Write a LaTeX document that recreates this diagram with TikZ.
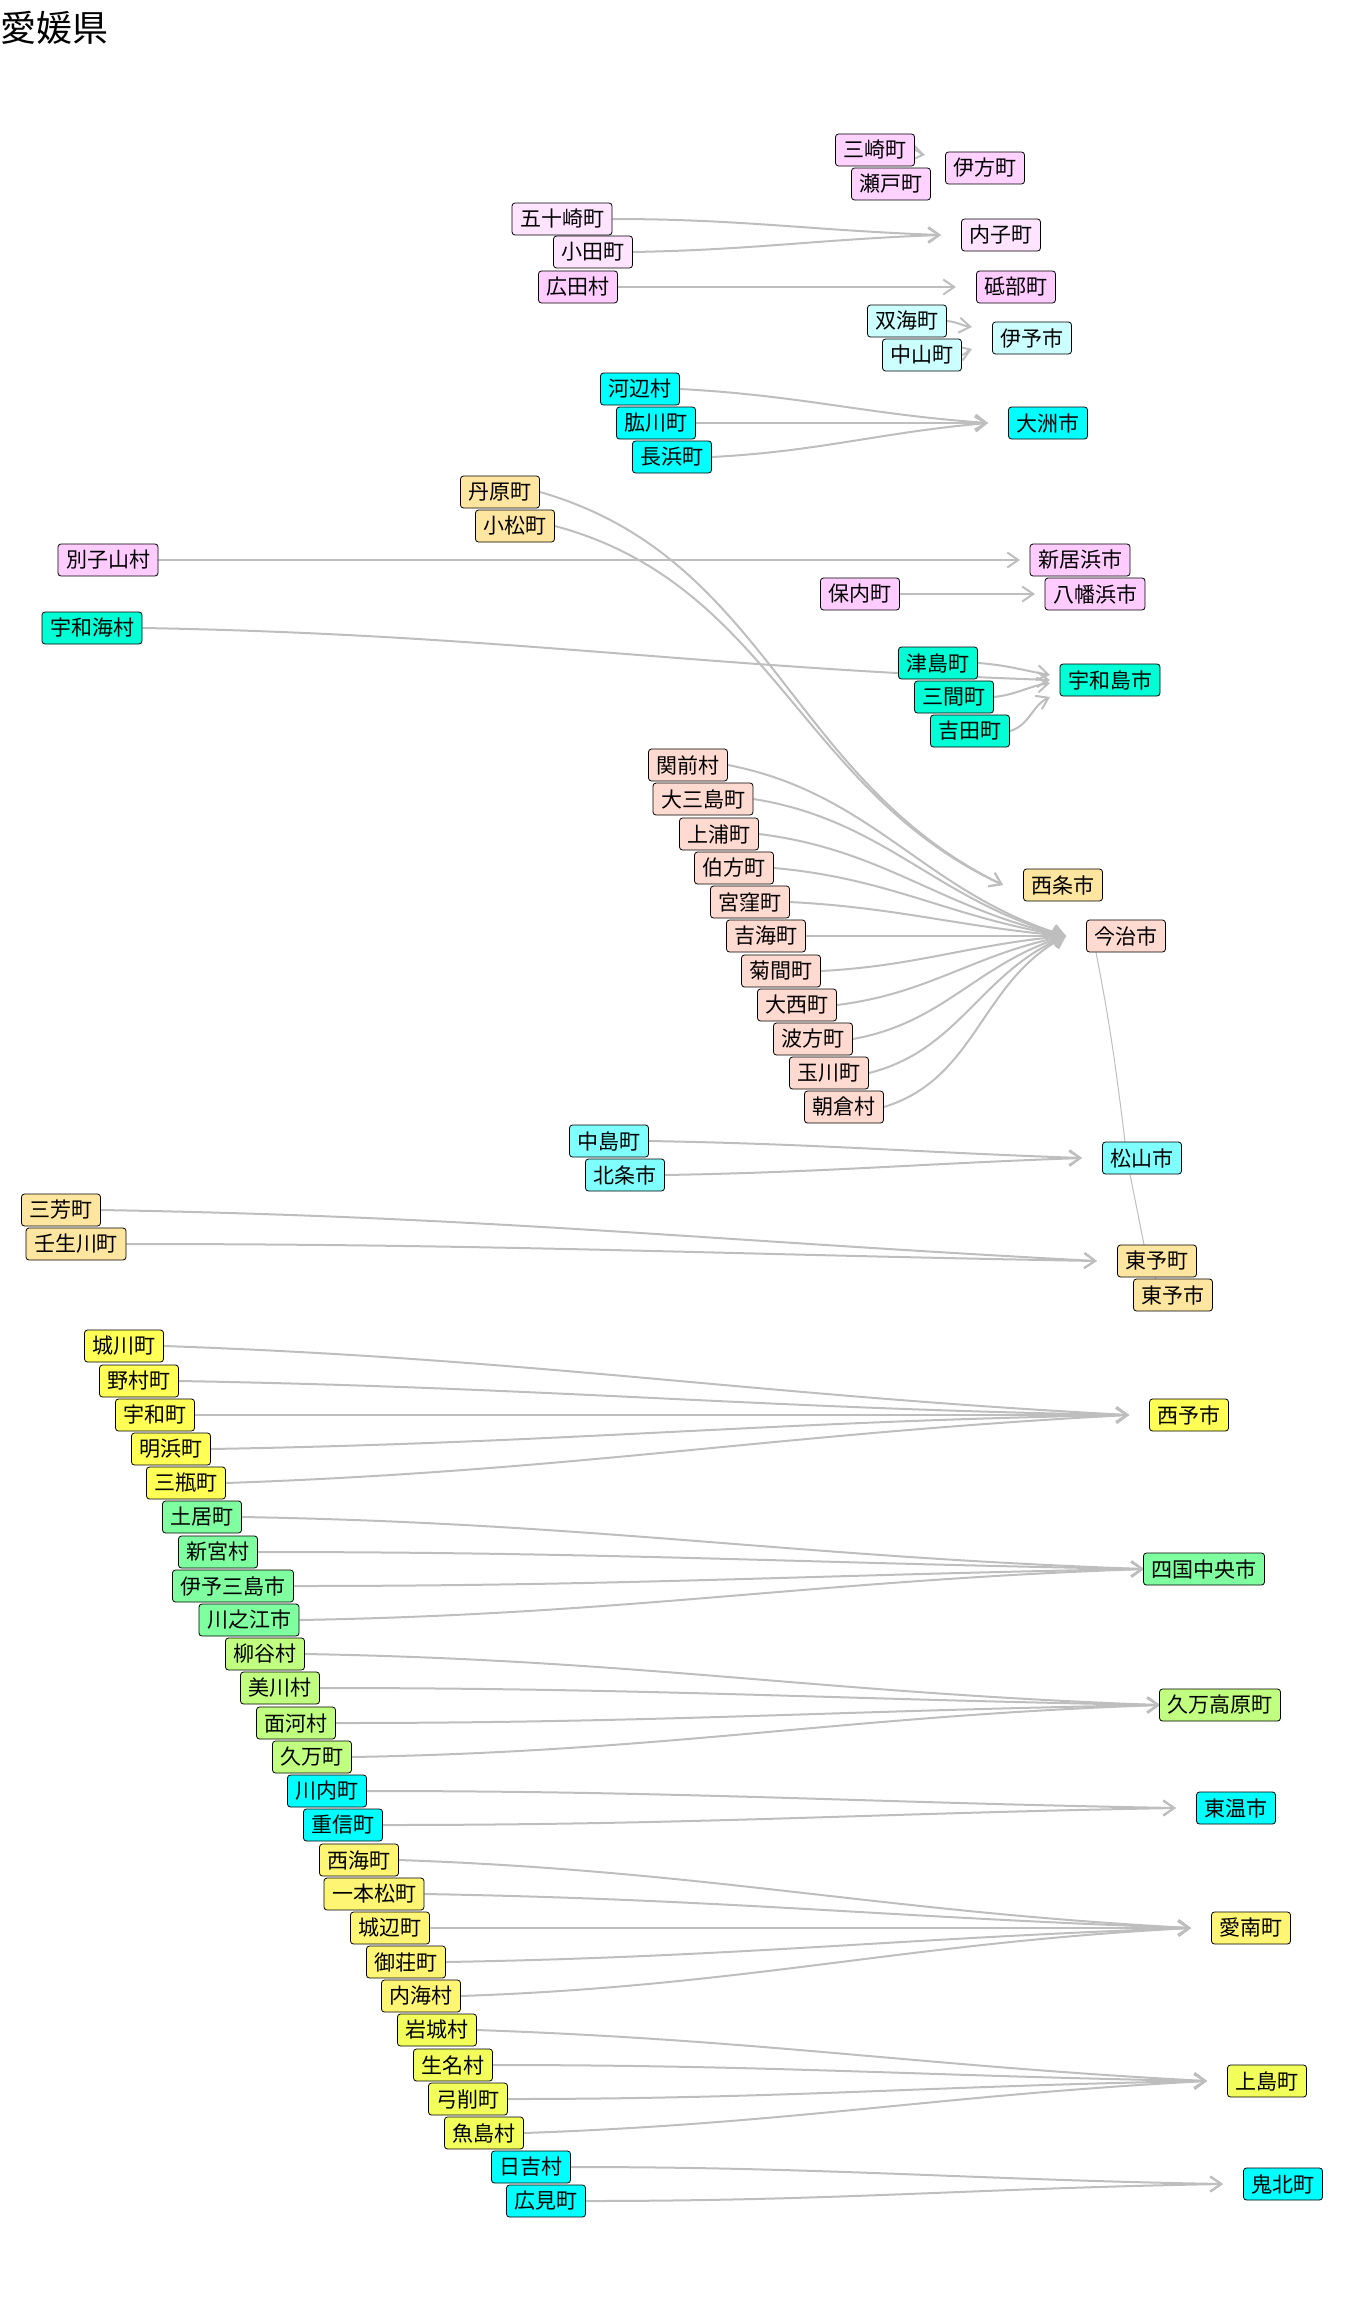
\documentclass[tikz,border=0pt]{standalone}
\usepackage{fontspec}
\setmainfont{Noto Sans CJK JP}
\usepackage{tikz}
\usetikzlibrary{arrows.meta,backgrounds}
\definecolor{linkgray}{HTML}{BEBEBE}
\definecolor{ikatacol}{HTML}{FFD2FF}
\definecolor{uchikocol}{HTML}{FFE4FF}
\definecolor{tobecol}{HTML}{FFCCFF}
\definecolor{iyocol}{HTML}{CCFFFF}
\definecolor{aqua}{HTML}{00FFFF}
\definecolor{saijocol}{HTML}{FFE6A0}
\definecolor{niihamacol}{HTML}{FFCCFF}
\definecolor{uwajimacol}{HTML}{00FFD5}
\definecolor{imabaricol}{HTML}{FFDAD0}
\definecolor{matsuyamacol}{HTML}{80FFFF}
\definecolor{seiyocol}{HTML}{FFFF55}
\definecolor{shikokucol}{HTML}{80FFA0}
\definecolor{kumacol}{HTML}{C0FF80}
\definecolor{ainancol}{HTML}{FFF575}
\definecolor{kamijimacol}{HTML}{F2FF5A}
\tikzset{%
	town/.style  = {draw, rounded corners=3pt, line width=0.8pt, minimum height=32pt, inner xsep=8pt, inner ysep=0pt, font=\fontsize{21}{25}\selectfont}, % municipality
	link/.style  = {draw=linkgray, line width=2pt, -{Straight Barb[length=11pt,width=15pt]}}, % merged into
	chain/.style = {draw=linkgray, line width=1pt}, % neighbours
}

\begin{document}
\begin{tikzpicture}[x=1pt,y=1pt]
	\useasboundingbox (0,0) rectangle (1344,-2304);
	\node[anchor=west,inner sep=0pt,font=\fontsize{36}{36}\selectfont] (title) at (0,-28) {愛媛県};

	% north
	\node[town,fill=ikatacol] (misaki) at (875,-150) {三崎町};
	\node[town,fill=ikatacol] (seto) at (891,-184) {瀬戸町};
	\node[town,fill=ikatacol] (ikata) at (985,-168) {伊方町};
	\node[town,fill=uchikocol] (ikazaki) at (562,-219) {五十崎町};
	\node[town,fill=uchikocol] (oda) at (593,-252) {小田町};
	\node[town,fill=tobecol] (hirota) at (578,-287) {広田村};
	\node[town,fill=uchikocol] (uchiko) at (1001,-235) {内子町};
	\node[town,fill=tobecol] (tobe) at (1016,-287) {砥部町};
	\node[town,fill=iyocol] (futami) at (907,-321) {双海町};
	\node[town,fill=iyocol] (nakayama) at (922,-355) {中山町};
	\node[town,fill=iyocol] (iyo) at (1032,-338) {伊予市};
	\node[town,fill=aqua] (kawabe) at (640,-389) {河辺村};
	\node[town,fill=aqua] (hijikawa) at (656,-423) {肱川町};
	\node[town,fill=aqua] (nagahama) at (672,-457) {長浜町};
	\node[town,fill=aqua] (ozu) at (1048,-423) {大洲市};
	\node[town,fill=saijocol] (tanbara) at (500,-492) {丹原町};
	\node[town,fill=saijocol] (komatsu) at (515,-526) {小松町};
	\node[town,fill=niihamacol] (besshi) at (108,-560) {別子山村};
	\node[town,fill=niihamacol] (niihama) at (1080,-560) {新居浜市};
	\node[town,fill=niihamacol] (honai) at (860,-594) {保内町};
	\node[town,fill=niihamacol] (yawatahama) at (1095,-594) {八幡浜市};
	\node[town,fill=uwajimacol] (uwaumi) at (92,-628) {宇和海村};
	\node[town,fill=uwajimacol] (tsushima) at (938,-663) {津島町};
	\node[town,fill=uwajimacol] (mima) at (954,-697) {三間町};
	\node[town,fill=uwajimacol] (yoshida) at (970,-731) {吉田町};
	\node[town,fill=uwajimacol] (uwajima) at (1110,-680) {宇和島市};

	% imabari
	\node[town,fill=imabaricol] (sekizen) at (688,-765) {関前村};
	\node[town,fill=imabaricol] (omishima) at (703,-799) {大三島町};
	\node[town,fill=imabaricol] (kamiura) at (719,-834) {上浦町};
	\node[town,fill=imabaricol] (hakata) at (734,-868) {伯方町};
	\node[town,fill=imabaricol] (miyakubo) at (750,-902) {宮窪町};
	\node[town,fill=imabaricol] (yoshiumi) at (766,-936) {吉海町};
	\node[town,fill=imabaricol] (kikuma) at (781,-971) {菊間町};
	\node[town,fill=imabaricol] (onishi) at (797,-1005) {大西町};
	\node[town,fill=imabaricol] (namikata) at (813,-1039) {波方町};
	\node[town,fill=imabaricol] (tamagawa) at (829,-1073) {玉川町};
	\node[town,fill=imabaricol] (asakura) at (844,-1107) {朝倉村};
	\node[town,fill=saijocol] (saijo) at (1063,-885) {西条市};
	\node[town,fill=imabaricol] (imabari) at (1126,-936) {今治市};

	% matsuyama, toyo
	\node[town,fill=matsuyamacol] (nakajima) at (609,-1141) {中島町};
	\node[town,fill=matsuyamacol] (hojo) at (625,-1175) {北条市};
	\node[town,fill=matsuyamacol] (matsuyama) at (1142,-1158) {松山市};
	\node[town,fill=saijocol] (miyoshi) at (61,-1210) {三芳町};
	\node[town,fill=saijocol] (nyugawa) at (76,-1244) {壬生川町};
	\node[town,fill=saijocol] (toyocho) at (1157,-1261) {東予町};
	\node[town,fill=saijocol] (toyoshi) at (1173,-1295) {東予市};

	% south
	\node[town,fill=seiyocol] (shirokawa) at (124,-1346) {城川町};
	\node[town,fill=seiyocol] (nomura) at (139,-1381) {野村町};
	\node[town,fill=seiyocol] (uwa) at (155,-1415) {宇和町};
	\node[town,fill=seiyocol] (akehama) at (171,-1449) {明浜町};
	\node[town,fill=seiyocol] (mikame) at (186,-1483) {三瓶町};
	\node[town,fill=seiyocol] (seiyo) at (1189,-1415) {西予市};
	\node[town,fill=shikokucol] (doi) at (202,-1517) {土居町};
	\node[town,fill=shikokucol] (shingu) at (218,-1552) {新宮村};
	\node[town,fill=shikokucol] (iyomishima) at (233,-1586) {伊予三島市};
	\node[town,fill=shikokucol] (kawanoe) at (249,-1620) {川之江市};
	\node[town,fill=shikokucol] (shikoku) at (1204,-1569) {四国中央市};
	\node[town,fill=kumacol] (yanadani) at (265,-1654) {柳谷村};
	\node[town,fill=kumacol] (mikawa) at (280,-1688) {美川村};
	\node[town,fill=kumacol] (omogo) at (296,-1723) {面河村};
	\node[town,fill=kumacol] (kuma) at (312,-1757) {久万町};
	\node[town,fill=kumacol] (kumakogen) at (1220,-1705) {久万高原町};
	\node[town,fill=aqua] (kawauchi) at (327,-1791) {川内町};
	\node[town,fill=aqua] (shigenobu) at (343,-1825) {重信町};
	\node[town,fill=aqua] (toon) at (1236,-1808) {東温市};
	\node[town,fill=ainancol] (nishiumi) at (359,-1860) {西海町};
	\node[town,fill=ainancol] (ipponmatsu) at (374,-1894) {一本松町};
	\node[town,fill=ainancol] (johen) at (390,-1928) {城辺町};
	\node[town,fill=ainancol] (misho) at (406,-1962) {御荘町};
	\node[town,fill=ainancol] (uchiumi) at (421,-1996) {内海村};
	\node[town,fill=ainancol] (ainan) at (1251,-1928) {愛南町};
	\node[town,fill=kamijimacol] (iwagi) at (437,-2030) {岩城村};
	\node[town,fill=kamijimacol] (ikina) at (453,-2065) {生名村};
	\node[town,fill=kamijimacol] (yuge) at (468,-2099) {弓削町};
	\node[town,fill=kamijimacol] (uoshima) at (484,-2133) {魚島村};
	\node[town,fill=kamijimacol] (kamijima) at (1267,-2081) {上島町};
	\node[town,fill=aqua] (hiyoshi) at (531,-2167) {日吉村};
	\node[town,fill=aqua] (hiromi) at (546,-2201) {広見町};
	\node[town,fill=aqua] (kihoku) at (1283,-2184) {鬼北町};

	\begin{scope}[on background layer]
	\draw[link] (misaki.east) to[out=-10,in=170] ([xshift=-60pt,yshift=13pt]ikata.center);
	\draw[link] (ikazaki.east) to[out=0,in=178] ([xshift=-60pt]uchiko.center);
	\draw[link] (oda.east) to[out=1,in=182] ([xshift=-60pt]uchiko.center);
	\draw[link] (hirota.east) -- ([xshift=-60pt]tobe.center);
	\draw[link] (futami.east) to[out=-5,in=172] ([xshift=-60pt,yshift=11pt]iyo.center);
	\draw[link] (nakayama.east) to[out=12,in=200] ([xshift=-60pt,yshift=-11pt]iyo.center);
	\draw[link] (kawabe.east) to[out=-3,in=176] ([xshift=-60pt]ozu.center);
	\draw[link] (hijikawa.east) -- ([xshift=-60pt]ozu.center);
	\draw[link] (nagahama.east) to[out=3,in=185] ([xshift=-60pt]ozu.center);
	\draw[link] (tanbara.east) to[out=-16,in=154] ([xshift=-60pt]saijo.center);
	\draw[link] (komatsu.east) to[out=-15,in=155] ([xshift=-60pt]saijo.center);
	\draw[link] (besshi.east) -- ([xshift=-60pt]niihama.center);
	\draw[link] (honai.east) -- ([xshift=-60pt]yawatahama.center);
	\draw[link] (uwaumi.east) to[out=-1,in=178] ([xshift=-60pt]uwajima.center);
	\draw[link] (tsushima.east) to[out=-4,in=170] ([xshift=-60pt,yshift=5pt]uwajima.center);
	\draw[link] (mima.east) to[out=6,in=189] ([xshift=-60pt,yshift=-3pt]uwajima.center);
	\draw[link] (yoshida.east) to[out=16,in=206] ([xshift=-60pt,yshift=-17pt]uwajima.center);

	\draw[link] (sekizen.east) to[out=-11,in=163] ([xshift=-60pt]imabari.center);
	\draw[link] (omishima.east) to[out=-9,in=165] ([xshift=-60pt]imabari.center);
	\draw[link] (kamiura.east) to[out=-7,in=168] ([xshift=-60pt]imabari.center);
	\draw[link] (hakata.east) to[out=-5,in=171] ([xshift=-60pt]imabari.center);
	\draw[link] (miyakubo.east) to[out=-3,in=175] ([xshift=-60pt]imabari.center);
	\draw[link] (yoshiumi.east) -- ([xshift=-60pt]imabari.center);
	\draw[link] (kikuma.east) to[out=3,in=185] ([xshift=-60pt]imabari.center);
	\draw[link] (onishi.east) to[out=7,in=191] ([xshift=-60pt]imabari.center);
	\draw[link] (namikata.east) to[out=10,in=197] ([xshift=-60pt]imabari.center);
	\draw[link] (tamagawa.east) to[out=14,in=203] ([xshift=-60pt]imabari.center);
	\draw[link] (asakura.east) to[out=17,in=208] ([xshift=-60pt]imabari.center);

	\draw[link] (nakajima.east) to[out=-1,in=178] ([xshift=-60pt]matsuyama.center);
	\draw[link] (hojo.east) to[out=1,in=182] ([xshift=-60pt]matsuyama.center);
	\draw[link] (miyoshi.east) to[out=-1,in=177] ([xshift=-60pt]toyocho.center);
	\draw[link] (nyugawa.east) to[out=0,in=179] ([xshift=-60pt]toyocho.center);
	\draw[chain] ([xshift=-30pt]imabari.south) to[out=-79,in=97] ([xshift=-17pt]matsuyama.north);
	\draw[chain] ([xshift=-12pt]matsuyama.south) -- ([xshift=-13pt]toyocho.north);
	\draw[chain] ([xshift=-2pt]toyocho.south) -- ([xshift=-17pt]toyoshi.north);

	\draw[link] (shirokawa.east) to[out=-2,in=177] ([xshift=-60pt]seiyo.center);
	\draw[link] (nomura.east) to[out=-1,in=179] ([xshift=-60pt]seiyo.center);
	\draw[link] (uwa.east) -- ([xshift=-60pt]seiyo.center);
	\draw[link] (akehama.east) to[out=1,in=181] ([xshift=-60pt]seiyo.center);
	\draw[link] (mikame.east) to[out=2,in=183] ([xshift=-60pt]seiyo.center);
	\draw[link] (doi.east) to[out=-1,in=178] ([xshift=-60pt]shikoku.center);
	\draw[link] (shingu.east) to[out=0,in=179] ([xshift=-60pt]shikoku.center);
	\draw[link] (iyomishima.east) to[out=0,in=181] ([xshift=-60pt]shikoku.center);
	\draw[link] (kawanoe.east) to[out=1,in=182] ([xshift=-60pt]shikoku.center);
	\draw[link] (yanadani.east) to[out=-1,in=178] ([xshift=-60pt]kumakogen.center);
	\draw[link] (mikawa.east) to[out=0,in=179] ([xshift=-60pt]kumakogen.center);
	\draw[link] (omogo.east) to[out=0,in=181] ([xshift=-60pt]kumakogen.center);
	\draw[link] (kuma.east) to[out=1,in=182] ([xshift=-60pt]kumakogen.center);
	\draw[link] (kawauchi.east) to[out=0,in=179] ([xshift=-60pt]toon.center);
	\draw[link] (shigenobu.east) to[out=0,in=181] ([xshift=-60pt]toon.center);
	\draw[link] (nishiumi.east) to[out=-2,in=177] ([xshift=-60pt]ainan.center);
	\draw[link] (ipponmatsu.east) to[out=-1,in=178] ([xshift=-60pt]ainan.center);
	\draw[link] (johen.east) -- ([xshift=-60pt]ainan.center);
	\draw[link] (misho.east) to[out=1,in=182] ([xshift=-60pt]ainan.center);
	\draw[link] (uchiumi.east) to[out=2,in=183] ([xshift=-60pt]ainan.center);
	\draw[link] (iwagi.east) to[out=-2,in=177] ([xshift=-60pt]kamijima.center);
	\draw[link] (ikina.east) to[out=0,in=179] ([xshift=-60pt]kamijima.center);
	\draw[link] (yuge.east) to[out=0,in=181] ([xshift=-60pt]kamijima.center);
	\draw[link] (uoshima.east) to[out=2,in=183] ([xshift=-60pt]kamijima.center);
	\draw[link] (hiyoshi.east) to[out=0,in=179] ([xshift=-60pt]kihoku.center);
	\draw[link] (hiromi.east) to[out=0,in=181] ([xshift=-60pt]kihoku.center);
	\end{scope}
\end{tikzpicture}
\end{document}
